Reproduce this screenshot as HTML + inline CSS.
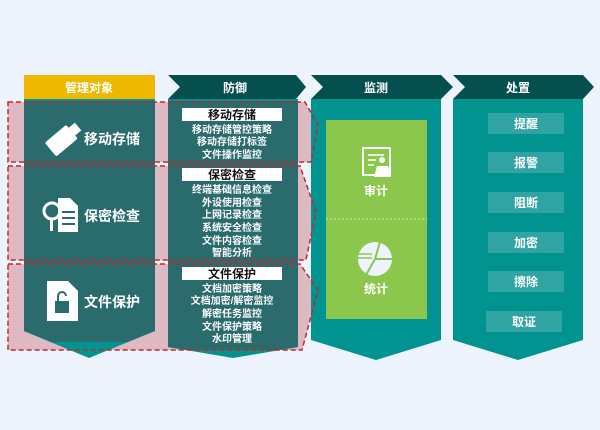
<!DOCTYPE html>
<html><head><meta charset="utf-8"><style>
body{margin:0;background:#eef4fd;}
svg{display:block;font-family:"Liberation Sans","Noto Sans CJK SC",sans-serif;font-weight:bold;}
</style></head><body>
<svg width="600" height="430" viewBox="0 0 600 430">
<rect width="600" height="430" fill="#eef4fd"/>
<!-- pink groups -->
<g fill="#dfb9c1">
<path d="M8 102 H305 L318 125 L311 162 H8 Z"/>
<path d="M8 166 H300 L316 212 L306 260 H8 Z"/>
<path d="M8 264 H300 L318 290 L302 350 H8 Z"/>
</g>
<!-- col1 -->
<rect x="24" y="75" width="131" height="24" fill="#efb800"/>
<text x="89" y="92" fill="#fff" font-size="12" text-anchor="middle">管理对象</text>
<path d="M24 99 H155 V331 L89 358 L24 331 Z" fill="#00938f"/>
<path d="M24 101 H155 V331 L127 342 H51 L24 331 Z" fill="#2a6b6e"/>
<!-- col2 -->
<path d="M168 75 H296 L306 87 L296 99 H168 L180 87 Z" fill="#064f4f"/>
<text x="235" y="92" fill="#fff" font-size="12" text-anchor="middle">防御</text>
<path d="M168 99 H298 V347 L233 358 L168 347 Z" fill="#00938f"/>
<path d="M168 101 H298 V347 L280 350 H186 L168 347 Z" fill="#2a6b6e"/>
<!-- col3 -->
<path d="M311 75 H441 L453 87 L441 99 H311 L323 87 Z" fill="#064f4f"/>
<text x="376" y="92" fill="#fff" font-size="12" text-anchor="middle">监测</text>
<path d="M311 99 H441 V340 L376 360 L311 340 Z" fill="#00938f"/>
<rect x="326" y="120" width="101" height="199" fill="#8bc74c"/>
<line x1="326" y1="219" x2="427" y2="219" stroke="#d8eec0" stroke-dasharray="2,2"/>
<!-- col4 -->
<path d="M453 75 H583 L594 87 L583 99 H453 L465 87 Z" fill="#064f4f"/>
<text x="518" y="92" fill="#fff" font-size="12" text-anchor="middle">处置</text>
<path d="M453 99 H583 V340 L518 360 L453 340 Z" fill="#00938f"/>
<g fill="#30a3a3">
<rect x="488" y="113" width="76" height="21"/><rect x="488" y="152" width="76" height="21"/>
<rect x="488" y="192" width="76" height="21"/><rect x="488" y="232" width="76" height="21"/>
<rect x="488" y="271" width="76" height="21"/><rect x="486" y="311" width="76" height="21"/>
</g>
<g fill="#fff" font-size="12" text-anchor="middle">
<text x="526" y="128">提醒</text><text x="526" y="167">报警</text><text x="526" y="207">阻断</text>
<text x="526" y="247">加密</text><text x="526" y="286">擦除</text><text x="524" y="326">取证</text>
</g>
<!-- col3 icons -->
<rect x="363" y="148" width="27" height="27" fill="none" stroke="#fff" stroke-width="2"/>
<g stroke="#fff" stroke-width="1.5"><line x1="368" y1="155" x2="384" y2="155"/><line x1="368" y1="160" x2="376" y2="160"/><line x1="368" y1="165" x2="374" y2="165"/></g>
<circle cx="382" cy="160" r="3" fill="#fff"/><path d="M374 177 L377 166 H388 L391 177 Z" fill="#fff"/>
<text x="376" y="195" fill="#fff" font-size="12" text-anchor="middle">审计</text>
<circle cx="375" cy="259" r="17" fill="#eef4fd"/>
<path d="M375 259 L392 259 M375 259 L366 275 M375 259 L380 242" stroke="#8bc74c" stroke-width="2"/>
<g stroke="#8bc74c" stroke-width="1.5"><line x1="356" y1="254" x2="372" y2="254"/><line x1="356" y1="258" x2="372" y2="258"/></g>
<text x="376" y="293" fill="#fff" font-size="12" text-anchor="middle">统计</text>
<!-- col1 labels & icons -->
<g fill="#fff" font-size="14" text-anchor="start">
<text x="84" y="144">移动存储</text><text x="84" y="221">保密检查</text><text x="84" y="307">文件保护</text>
</g>
<g transform="rotate(-40 62 140)"><rect x="47" y="131" width="28" height="18" rx="2" fill="#fff"/><rect x="75" y="135" width="8" height="10" fill="#fff"/></g>
<circle cx="52" cy="211" r="8" fill="none" stroke="#fff" stroke-width="3"/><rect x="50" y="219" width="3" height="12" fill="#fff"/>
<path d="M58 198 H70 L78 206 V232 H58 Z" fill="#fff"/>
<g stroke="#2a6b6e" stroke-width="2"><line x1="62" y1="212" x2="75" y2="212"/><line x1="62" y1="218" x2="75" y2="218"/><line x1="62" y1="224" x2="75" y2="224"/></g>
<path d="M47 281 H68 L78 291 V321 H47 Z" fill="#fff"/>
<rect x="55" y="301" width="14" height="12" fill="#2a6b6e"/>
<path d="M58 301 V296 A4 4 0 0 1 66 296" fill="none" stroke="#2a6b6e" stroke-width="2"/>
<!-- col2 text -->
<g fill="#fff"><rect x="182" y="108" width="100" height="13"/><rect x="182" y="168" width="100" height="13"/><rect x="182" y="267" width="100" height="13"/></g>
<g fill="#111" font-size="12" text-anchor="middle">
<text x="232" y="119">移动存储</text><text x="232" y="179">保密检查</text><text x="232" y="278">文件保护</text>
</g>
<g fill="#fff" font-size="10" text-anchor="middle">
<text x="232" y="133">移动存储管控策略</text><text x="232" y="145">移动存储打标签</text><text x="232" y="158">文件操作监控</text>
<text x="232" y="193">终端基础信息检查</text><text x="232" y="206">外设使用检查</text><text x="232" y="218">上网记录检查</text>
<text x="232" y="231">系统安全检查</text><text x="232" y="244">文件内容检查</text><text x="232" y="256">智能分析</text>
<text x="232" y="292">文档加密策略</text><text x="232" y="304">文档加密/解密监控</text><text x="232" y="317">解密任务监控</text>
<text x="232" y="330">文件保护策略</text><text x="232" y="342">水印管理</text>
</g>
<!-- dashed outlines -->
<g fill="none" stroke="#c0282d" stroke-width="1.5" stroke-dasharray="5,3">
<path d="M8 102 H305 L318 125 L311 162 H8 Z"/>
<path d="M8 166 H300 L316 212 L306 260 H8 Z"/>
<path d="M8 264 H300 L318 290 L302 350 H8 Z"/>
</g>
</svg>
</body></html>
